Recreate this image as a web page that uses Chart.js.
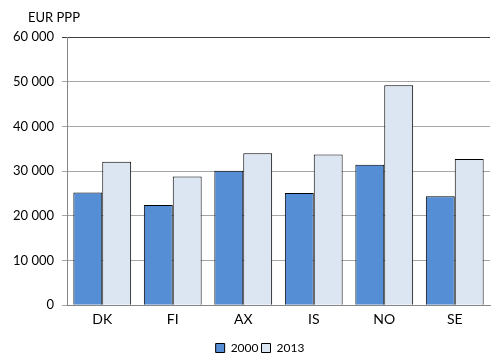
<!DOCTYPE html>
<html>
<head>
<meta charset="utf-8">
<script src="https://cdn.jsdelivr.net/npm/chart.js@4/dist/chart.umd.min.js"></script>
<style>
html,body{margin:0;padding:0;background:#fff;}
#wrap{width:493px;height:354px;}
</style>
</head>
<body>
<div id="wrap"><canvas id="c" width="493" height="354"></canvas></div>
<script>
const categories = ['DK','FI','AX','IS','NO','SE'];
const values2000 = [25200, 22400, 30100, 25100, 31400, 24400];
const values2013 = [32100, 28800, 34000, 33700, 49200, 32700];
const seriesLabels = ['2000','2013'];
const unitLabel = 'EUR PPP';

const FONT = 'Lato, "Open Sans", "Liberation Sans", sans-serif';

const unitPlugin = {
  id: 'unit',
  afterLayout(chart) {
    const l = chart.legend;
    if (l) { l.left += 15; l.right += 15; }
  },
  afterDraw(chart) {
    const ctx = chart.ctx;
    ctx.save();
    ctx.font = '13px ' + FONT;
    ctx.fillStyle = '#000';
    ctx.textBaseline = 'middle';
    ctx.textAlign = 'left';
    ctx.fillText(unitLabel, 28, 18);
    ctx.restore();
  }
};

new Chart(document.getElementById('c'), {
  type: 'bar',
  data: {
    labels: categories,
    datasets: [
      {label: seriesLabels[0], data: values2000, backgroundColor: '#558ED5', borderColor: '#000', borderWidth: 1},
      {label: seriesLabels[1], data: values2013, backgroundColor: '#DCE6F2', borderColor: '#000', borderWidth: 1}
    ]
  },
  options: {
    responsive: false,
    animation: false,
    devicePixelRatio: 1,
    layout: {padding: {top: 37, right: 3, left: 0, bottom: -10}},
    datasets: {bar: {barPercentage: 1, categoryPercentage: 0.82}},
    plugins: {
      legend: {
        position: 'bottom',
        labels: {boxWidth: 9, boxHeight: 9, padding: 3, color: '#000', font: {family: FONT, size: 12}}
      },
      tooltip: {enabled: false}
    },
    scales: {
      x: {
        grid: {display: false, drawTicks: false},
        border: {display: true, color: '#868686'},
        afterFit(s) { s.height += 5; },
        ticks: {color: '#000', font: {family: FONT, size: 14}, padding: 6}
      },
      y: {
        min: 0, max: 60000,
        afterFit(s) { s.width = 67; },
        ticks: {
          stepSize: 10000, color: '#000', padding: 8,
          font: {family: FONT, size: 13},
          callback: v => v === 0 ? '0' : String(v).replace(/\B(?=(\d{3})+(?!\d))/g, ' ')
        },
        grid: {
          color: ctx => ctx.tick && ctx.tick.value === 60000 ? '#404040' : '#A6A6A6',
          tickLength: 5, drawTicks: true
        },
        border: {display: true, color: '#868686'}
      }
    }
  },
  plugins: [unitPlugin]
});
</script>
</body>
</html>
